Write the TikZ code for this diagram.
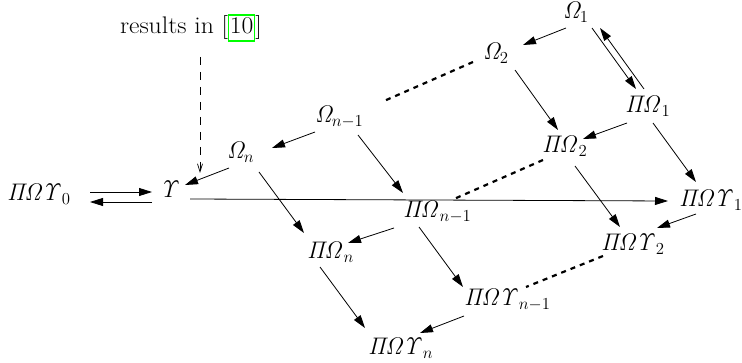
\RequirePackage{fix-cm}
\documentclass[tikz,border=0pt]{standalone}
\usepackage{amsmath}
\usepackage{graphicx}
\usetikzlibrary{arrows.meta}
\definecolor{linkgreen}{rgb}{0,1,0}
\newcommand{\PO}{\mathit{\Pi\Omega}}
\newcommand{\POU}{\mathit{\Pi\Omega\Upsilon}}
\begin{document}
\begin{tikzpicture}[x=1pt,y=-1pt,
  lab/.style={anchor=base west,inner sep=0pt,outer sep=0pt,font=\fontsize{24}{29}\selectfont},
  arr/.style={line width=0.8pt,-{Triangle[length=13pt,width=8pt]}},
  dots/.style={line width=2.2pt,dash pattern=on 5pt off 5pt},
  dsh/.style={line width=0.7pt,dash pattern=on 8pt off 7pt,-{Straight Barb[length=8pt,width=5pt]}}]
\useasboundingbox (0,0) rectangle (742,363);
\node[lab] (res) at (120,34) {\scalebox{1.07}[1]{results in [{\setlength{\fboxsep}{0.5pt}\setlength{\fboxrule}{1.2pt}\fcolorbox{linkgreen}{white}{\vphantom{[}10}}]}};
\node[lab] (O1) at (563,19) {$\mathit{\Omega}_1$};
\node[lab] (O2) at (483,60) {$\mathit{\Omega}_2$};
\node[lab] (PO1) at (625,113) {$\PO_1$};
\node[lab] (PO2) at (542,153) {$\PO_2$};
\node[lab] (On1) at (315,123) {$\mathit{\Omega}_{n-1}$};
\node[lab] (On) at (227,159) {$\mathit{\Omega}_n$};
\node[lab] (U) at (159,198) {$\mathit{\Upsilon}$};
\node[lab] (POU0) at (7,201) {$\POU_0$};
\node[lab] (POn) at (307,259) {$\PO_n$};
\node[lab] (POn1) at (403,218) {$\PO_{n-1}$};
\node[lab] (POU1) at (679,207) {$\POU_1$};
\node[lab] (POU2) at (601,251) {$\POU_2$};
\node[lab] (POUn1) at (464,306) {$\POU_{n-1}$};
\node[lab] (POUn) at (368,355) {$\POU_n$};
% arrows
\draw[arr] ([shift={(3,9)}]O1.base west) -- ([shift={(40,-15)}]O2.base west);
\draw[arr] ([shift={(29,9)}]O1.base west) -- ([shift={(11,-24)}]PO1.base west);
\draw[arr] ([shift={(19,-24)}]PO1.base west) -- ([shift={(37,9)}]O1.base west);
\draw[arr] ([shift={(32,10)}]O2.base west) -- ([shift={(16,-23)}]PO2.base west);
\draw[arr] ([shift={(2,10)}]PO1.base west) -- ([shift={(41,-14)}]PO2.base west);
\draw[arr] ([shift={(28,10)}]PO1.base west) -- ([shift={(17,-25)}]POU1.base west);
\draw[arr] ([shift={(33,13)}]PO2.base west) -- ([shift={(19,-24)}]POU2.base west);
\draw[arr] ([shift={(17,7)}]POU1.base west) -- ([shift={(56,-23)}]POU2.base west);
\draw[arr] ([shift={(0,9)}]On1.base west) -- ([shift={(45,-11)}]On.base west);
\draw[arr] ([shift={(43,12)}]On1.base west) -- ([shift={(0,-25)}]POn1.base west);
\draw[arr] ([shift={(2,9)}]On.base west) -- ([shift={(26,-13)}]U.base west);
\draw[arr] ([shift={(32,13)}]On.base west) -- ([shift={(-3,-26)}]POn.base west);
\draw[arr] ([shift={(31,1)}]U.base west) -- ([shift={(-11,-6)}]POU1.base west);
\draw[arr] ([shift={(83,-9)}]POU0.base west) -- ([shift={(-7,-6)}]U.base west);
\draw[arr] ([shift={(-7,4)}]U.base west) -- ([shift={(83,1)}]POU0.base west);
\draw[arr] ([shift={(-9,10)}]POn1.base west) -- ([shift={(41,-16)}]POn.base west);
\draw[arr] ([shift={(16,9)}]POn1.base west) -- ([shift={(-1,-19)}]POUn1.base west);
\draw[arr] ([shift={(0,10)}]POUn1.base west) -- ([shift={(52,-22)}]POUn.base west);
\draw[arr] ([shift={(13,8)}]POn.base west) -- ([shift={(-3,-27)}]POUn.base west);
% dotted
\draw[dots] ([shift={(2,5)}]POU2.base west) -- ([shift={(62,-19)}]POUn1.base west);
\draw[dots] ([shift={(1,7)}]PO2.base west) -- ([shift={(51,-19)}]POn1.base west);
\draw[dots] ([shift={(-10,2)}]O2.base west) -- ([shift={(69,-22)}]On1.base west);
% dashed
\draw[dsh] ([shift={(80,23)}]res.base west) -- ([shift={(41,-25)}]U.base west);
\end{tikzpicture}
\end{document}
